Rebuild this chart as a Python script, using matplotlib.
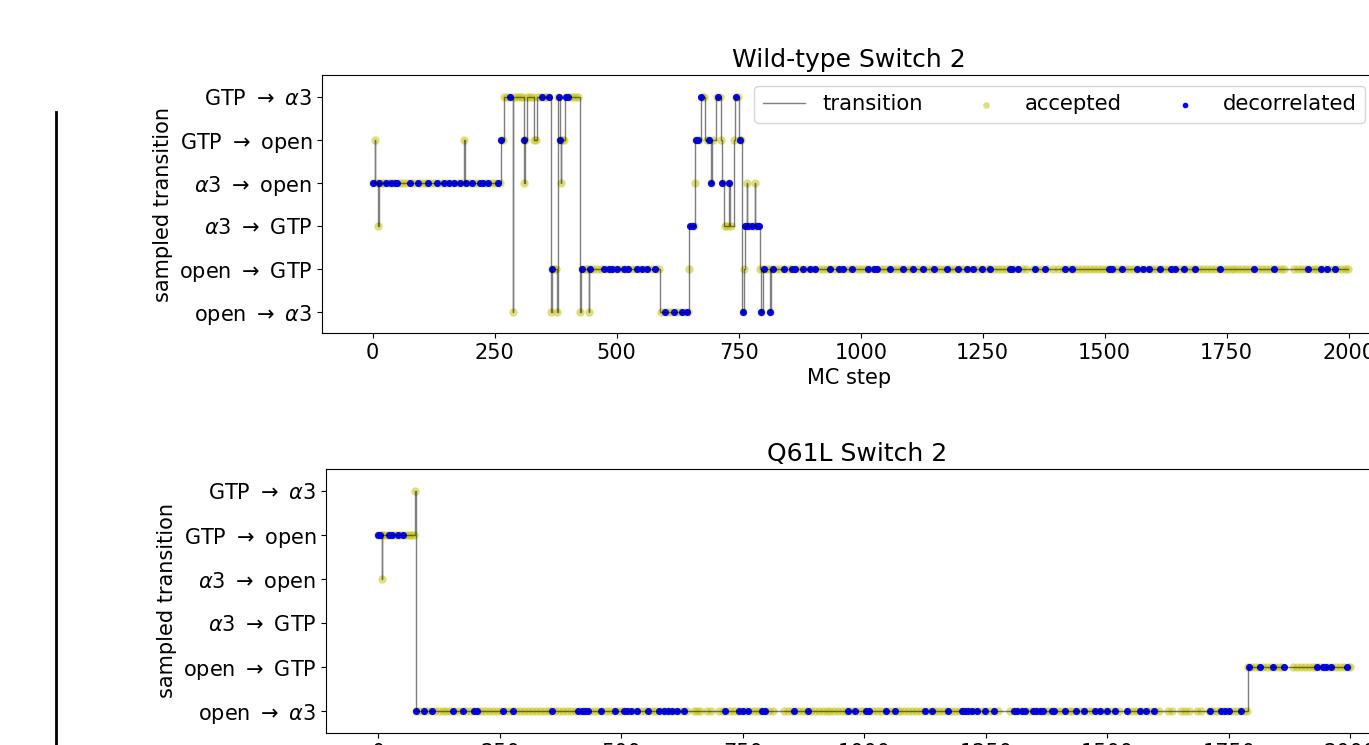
import numpy as np
import matplotlib
matplotlib.use("Agg")
import matplotlib.pyplot as plt
from matplotlib.lines import Line2D

plt.rcParams['font.size'] = 15

state_labels = [r'open $\rightarrow$ $\alpha3$', r'open $\rightarrow$ GTP', r'$\alpha3$ $\rightarrow$ GTP',
                r'$\alpha3$ $\rightarrow$ open', r'GTP $\rightarrow$ open', r'GTP $\rightarrow$ $\alpha3$']

# wild-type: sampled transition path (step where the state starts, state index)
wt_path_steps = [0, 4, 5, 11, 12, 188, 189, 263, 269, 287, 288, 309, 311, 312, 317, 331, 336,
                 366, 367, 378, 379, 383, 385, 386, 395, 424, 427, 443, 444, 588, 648, 649, 660,
                 661, 672, 681, 693, 696, 703, 714, 716, 720, 730, 732, 740, 743, 751, 757, 761,
                 762, 767, 768, 783, 784, 794, 795, 800, 814, 817, 1999]
wt_path_states = [3, 4, 3, 2, 3, 4, 3, 4, 5, 0, 5, 4, 3, 4, 5, 4, 5,
                  0, 1, 0, 5, 4, 3, 4, 5, 0, 1, 0, 1, 0, 1, 2, 3,
                  4, 5, 4, 3, 4, 5, 4, 3, 2, 3, 2, 4, 5, 4, 0, 1,
                  2, 3, 2, 3, 2, 1, 0, 1, 0, 1, 1]

wt_accepted = [0, 4, 8, 11, 12, 18, 24, 30, 36, 42, 48, 55, 62, 70, 78, 86, 94, 102, 110, 118,
               126, 134, 142, 150, 158, 166, 174, 182, 188, 192, 200, 208, 216, 224, 232, 240,
               248, 255, 260, 263, 266, 270, 276, 282, 287, 290, 296, 302, 306, 309, 311, 313,
               317, 322, 328, 331, 334, 338, 344, 350, 356, 362, 366, 368, 372, 376, 378, 380,
               383, 385, 388, 392, 396, 402, 408, 414, 420, 424, 428, 434, 440, 443, 446, 452,
               460, 468, 476, 484, 492, 500, 508, 516, 524, 532, 540, 548, 556, 564, 572, 580,
               586, 590, 598, 606, 614, 622, 630, 638, 646, 648, 652, 658, 660, 663, 668, 674,
               679, 684, 690, 694, 698, 705, 711, 714, 717, 722, 726, 730, 734, 741, 745, 749,
               752, 755, 758, 761, 764, 767, 770, 776, 782, 783, 786, 790, 794, 796, 800, 806,
               812, 814, 818, 826, 834, 842, 850, 858, 866, 874, 882, 890, 898, 906, 914, 922,
               930, 938, 946, 954, 962, 970, 978, 986, 994, 1002, 1010, 1018, 1026, 1034, 1042,
               1050, 1058, 1066, 1074, 1082, 1090, 1098, 1106, 1114, 1122, 1130, 1138, 1146,
               1154, 1162, 1170, 1178, 1186, 1194, 1202, 1210, 1218, 1226, 1234, 1242, 1250,
               1258, 1266, 1274, 1282, 1290, 1298, 1306, 1314, 1322, 1330, 1338, 1354, 1362,
               1372, 1382, 1394, 1404, 1414, 1422, 1430, 1438, 1446, 1454, 1462, 1470, 1478,
               1486, 1494, 1502, 1510, 1518, 1526, 1534, 1542, 1550, 1558, 1566, 1574, 1582,
               1590, 1598, 1606, 1614, 1622, 1630, 1638, 1646, 1654, 1662, 1670, 1678, 1686,
               1694, 1702, 1710, 1718, 1726, 1734, 1742, 1750, 1758, 1766, 1774, 1782, 1790,
               1798, 1806, 1814, 1822, 1830, 1838, 1846, 1854, 1862, 1868, 1888, 1896, 1904,
               1912, 1920, 1928, 1936, 1944, 1952, 1960, 1968, 1976, 1984, 1992, 1998]

wt_decorrelated = [0, 12, 27, 38, 45, 50, 77, 93, 114, 131, 147, 157, 166, 178, 191, 204, 219,
                   225, 236, 256, 263, 282, 309, 347, 362, 367, 381, 383, 396, 401, 428, 446,
                   474, 484, 491, 501, 515, 524, 542, 552, 562, 578, 598, 618, 633, 645, 650,
                   656, 662, 666, 673, 690, 694, 707, 716, 731, 744, 752, 758, 763, 770, 778,
                   788, 792, 796, 801, 815, 821, 842, 860, 866, 882, 896, 907, 938, 956, 964,
                   982, 1014, 1027, 1033, 1061, 1087, 1107, 1128, 1151, 1176, 1199, 1217, 1230,
                   1249, 1265, 1306, 1311, 1323, 1358, 1377, 1419, 1434, 1508, 1516, 1536, 1566,
                   1578, 1590, 1614, 1635, 1645, 1662, 1686, 1737, 1805, 1847, 1917, 1944, 1956,
                   1973]

# Q61L
q_path_steps = [0, 7, 8, 76, 77, 1790, 1999]
q_path_states = [4, 3, 4, 5, 0, 1, 1]

q_accepted = [0, 5, 7, 8, 14, 20, 26, 32, 38, 44, 50, 56, 62, 68, 74, 76, 77, 84, 92, 100, 108,
              116, 124, 132, 140, 148, 156, 164, 172, 180, 188, 196, 204, 212, 220, 228, 236,
              244, 252, 260, 268, 276, 284, 292, 300, 308, 316, 324, 332, 340, 348, 356, 364,
              372, 380, 388, 396, 404, 412, 420, 428, 436, 444, 452, 460, 468, 476, 484, 492,
              500, 508, 516, 524, 532, 540, 548, 556, 564, 572, 580, 588, 596, 604, 612, 620,
              628, 634, 650, 656, 662, 676, 684, 700, 708, 716, 724, 732, 740, 748, 756, 764,
              772, 780, 788, 796, 804, 812, 834, 842, 850, 858, 866, 874, 882, 890, 898, 906,
              914, 922, 930, 938, 946, 954, 962, 970, 978, 986, 994, 1002, 1010, 1018, 1026,
              1034, 1042, 1050, 1058, 1066, 1074, 1082, 1090, 1098, 1106, 1114, 1122, 1130,
              1138, 1146, 1154, 1162, 1170, 1178, 1186, 1194, 1202, 1210, 1218, 1226, 1234,
              1242, 1250, 1258, 1266, 1274, 1300, 1308, 1316, 1324, 1332, 1340, 1348, 1356,
              1364, 1372, 1380, 1388, 1396, 1404, 1412, 1420, 1428, 1436, 1444, 1452, 1460,
              1468, 1476, 1484, 1492, 1500, 1508, 1516, 1524, 1542, 1550, 1558, 1566, 1574,
              1582, 1590, 1598, 1606, 1624, 1632, 1652, 1660, 1668, 1684, 1692, 1708, 1716,
              1724, 1732, 1740, 1748, 1756, 1764, 1772, 1780, 1788, 1790, 1796, 1804, 1812,
              1820, 1828, 1836, 1844, 1852, 1860, 1882, 1890, 1898, 1906, 1914, 1922, 1930,
              1938, 1946, 1954, 1962, 1970, 1978, 1986, 1994, 1999]

q_decorrelated = [0, 3, 21, 28, 41, 51, 78, 94, 110, 153, 173, 197, 203, 257, 276, 357, 411,
                  418, 425, 432, 457, 487, 505, 512, 519, 531, 555, 578, 588, 596, 605, 615,
                  629, 713, 741, 750, 761, 789, 796, 855, 883, 967, 981, 1003, 1010, 1045, 1063,
                  1124, 1138, 1171, 1200, 1207, 1214, 1221, 1232, 1248, 1267, 1307, 1313, 1324,
                  1331, 1346, 1353, 1361, 1368, 1386, 1390, 1413, 1436, 1452, 1475, 1485, 1499,
                  1516, 1541, 1566, 1580, 1596, 1710, 1733, 1742, 1750, 1775, 1791, 1813, 1840,
                  1864, 1931, 1944, 1950, 1960, 1993]


def state_at(path_steps, path_states, steps):
    idx = np.searchsorted(path_steps, steps, side='right') - 1
    return np.array(path_states)[idx]


fig = plt.figure(figsize=(13.69, 7.45), dpi=100)

ax1 = fig.add_axes([0.2352, 0.5530, 0.7699, 0.3463])
ax2 = fig.add_axes([0.2381, 0.0161, 0.7757, 0.3544])

panels = [(ax1, 'Wild-type Switch 2', wt_path_steps, wt_path_states, wt_accepted, wt_decorrelated, (-104, 2056)),
          (ax2, 'Q61L Switch 2', q_path_steps, q_path_states, q_accepted, q_decorrelated, (-108, 2077))]

for ax, title, p_steps, p_states, acc, dec, xl in panels:
    ax.plot(p_steps, p_states, drawstyle='steps-post', color='k', alpha=0.5, linewidth=1, label='transition')
    ax.scatter(acc, state_at(p_steps, p_states, acc), c='y', alpha=0.5, s=36, linewidths=0, label='accepted')
    ax.scatter(dec, state_at(p_steps, p_states, dec), c='b', s=26, linewidths=0, label='decorrelated')
    ax.set_yticks(range(6))
    ax.set_yticklabels(state_labels)
    ax.set_ylim(-0.5, 5.5)
    ax.set_xlim(xl)
    ax.set_xticks([0, 250, 500, 750, 1000, 1250, 1500, 1750, 2000])
    ax.set_ylabel('sampled transition')
    ax.set_xlabel('MC step')
    ax.set_title(title)

ax1.legend(loc='upper right', ncol=3, fontsize=15.25, markerscale=0.8)

fig.add_artist(Line2D([56 / 1369, 56 / 1369], [1 - 112 / 745, 0], color='k', linewidth=2))

plt.savefig('out.png', dpi=100)
